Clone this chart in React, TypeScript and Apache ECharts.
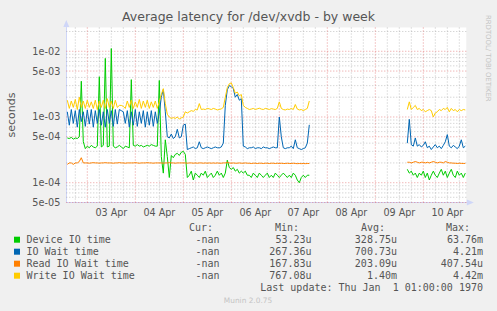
import React, { useEffect, useRef } from "react";
import * as echarts from "echarts";

// Time in hours relative to 03 Apr 00:00, one sample per hour
const seg1Start = -10;
const seg2Start = 160;

const dayLabels = ["03 Apr", "04 Apr", "05 Apr", "06 Apr", "07 Apr", "08 Apr", "09 Apr", "10 Apr"];
const dayLabelHours = [12, 36, 60, 84, 108, 132, 156, 180];

const yTickValues = [5e-5, 1e-4, 5e-4, 1e-3, 5e-3, 1e-2];
const yTickLabels = ["5e-05", "1e-04", "5e-04", "1e-03", "5e-03", "1e-02"];

const seriesNames = ["Device IO time", "IO Wait time", "Read IO Wait time", "Write IO Wait time"];
const seriesColors = ["#00CC00", "#0066B3", "#FF8000", "#FFCC00"];

// values in milliseconds
const deviceSeg1 = [
  0.48, 0.47, 0.49, 0.46, 0.48, 0.47, 0.5, 3.5, 0.42,
  0.33, 0.36, 0.34, 0.37, 0.35, 0.34, 0.36, 4.1, 0.35, 0.37, 7.8, 0.35, 0.36, 11,
  0.36, 0.34, 0.35, 0.37, 0.35, 0.33, 0.36, 0.35, 0.34, 3.7,
  0.37, 0.36, 0.38, 0.36, 0.37, 0.35, 0.36, 0.37, 0.36, 0.38, 0.37, 0.36, 0.36, 3.6,
  0.25, 0.14, 0.45, 0.25, 0.12, 0.26, 0.24, 0.27, 0.28, 0.26, 0.29, 0.3, 0.27,
  0.12, 0.13, 0.15, 0.11, 0.14, 0.13, 0.12, 0.14, 0.13, 0.15, 0.12, 0.13, 0.14, 0.12, 0.13, 0.15, 0.13, 0.14, 0.12,
  0.14, 0.22, 0.17, 0.16, 0.17, 0.15, 0.16, 0.14, 0.15, 0.14, 0.15, 0.13,
  0.13, 0.12, 0.14, 0.13, 0.12, 0.14, 0.13, 0.12, 0.13, 0.14,
  0.12, 0.13, 0.12, 0.14, 0.13, 0.12, 0.13, 0.14, 0.13, 0.12,
  0.13, 0.12, 0.14, 0.13, 0.11, 0.1, 0.12, 0.13, 0.12, 0.13, 0.13,
];
const deviceSeg2 = [
  0.16, 0.14, 0.15, 0.13, 0.14, 0.12, 0.14, 0.13, 0.15, 0.12,
  0.14, 0.11, 0.13, 0.15, 0.13, 0.12, 0.14, 0.16, 0.13, 0.15,
  0.12, 0.14, 0.16, 0.13, 0.12, 0.15, 0.13, 0.14, 0.12, 0.14,
];

const ioWaitSeg1 = [
  1.2, 0.75, 1.3, 0.8, 1.25, 0.7, 1.3, 0.85, 1.2, 0.72, 1.28, 0.78, 1.3, 0.7, 1.25, 0.8, 1.3, 0.75, 1.2, 0.7, 1.3, 0.8, 1.25, 0.72, 1.3, 0.78,
  1.3, 1.25, 1.2,
  0.8, 1.25, 0.7, 1.2, 0.75, 1.3, 0.72, 1.2, 0.8, 1.25, 0.7, 1.2, 0.75, 1.25, 0.72, 1.2, 0.8, 1.15,
  2.0, 2.6, 1.2, 0.5, 0.48, 0.55, 0.47, 0.5, 0.65, 0.48, 0.5, 0.75, 0.78, 0.32,
  0.33, 0.34, 0.35, 0.33, 0.34, 0.42, 0.34, 0.33, 0.34, 0.35, 0.34, 0.33, 0.34, 0.35, 0.34, 0.34, 0.35,
  0.4, 1.5, 2.6, 3.0, 2.9, 2.7, 2.0, 2.2, 1.8, 1.9, 0.36,
  0.35, 0.33, 0.34, 0.34, 0.35, 0.33, 0.34, 0.34, 0.33, 0.35, 0.34, 0.34, 0.33, 0.34, 0.35, 0.34,
  0.34, 1.0, 0.5, 0.34, 0.33, 0.34, 0.34, 0.36, 0.33, 0.45, 0.34, 0.33, 0.32, 0.33, 0.34, 0.4, 0.76,
];
const ioWaitSeg2 = [
  0.4, 0.92, 0.38, 0.36, 0.48, 0.36, 0.38, 0.35, 0.37, 0.42,
  0.34, 0.36, 0.32, 0.35, 0.38, 0.34, 0.36, 0.33, 0.37, 0.42,
  0.54, 0.36, 0.34, 0.37, 0.35, 0.33, 0.36, 0.45, 0.34, 0.36,
];

const readSeg1 = [
  0.19, 0.2, 0.2, 0.19, 0.2, 0.2, 0.21, 0.24, 0.2,
  0.2, 0.2, 0.198, 0.2, 0.202, 0.2, 0.2, 0.198, 0.2, 0.2, 0.202, 0.2, 0.2, 0.2,
  0.198, 0.2, 0.2, 0.202, 0.2, 0.2, 0.198, 0.2, 0.2, 0.2,
  0.2, 0.202, 0.2, 0.198, 0.2, 0.2, 0.2, 0.202, 0.2, 0.2, 0.198, 0.2, 0.2, 0.2,
  0.2, 0.198, 0.2, 0.2, 0.202, 0.2, 0.2, 0.198, 0.2, 0.2, 0.2, 0.2, 0.2,
  0.198, 0.2, 0.2, 0.198, 0.2, 0.198, 0.2, 0.2, 0.198, 0.2, 0.198, 0.2, 0.198, 0.2, 0.198, 0.2, 0.198, 0.198, 0.2,
  0.2, 0.204, 0.2, 0.198, 0.2, 0.198, 0.198, 0.2, 0.198, 0.198, 0.2, 0.198,
  0.198, 0.196, 0.198, 0.198, 0.196, 0.198, 0.198, 0.196, 0.198, 0.198,
  0.196, 0.198, 0.198, 0.196, 0.198, 0.196, 0.198, 0.196, 0.196, 0.198,
  0.196, 0.196, 0.198, 0.196, 0.195, 0.196, 0.195, 0.196, 0.195, 0.196, 0.196,
];
const readSeg2 = [
  0.205, 0.205, 0.2, 0.205, 0.21, 0.205, 0.2, 0.205, 0.205, 0.2,
  0.205, 0.2, 0.205, 0.21, 0.205, 0.2, 0.205, 0.205, 0.2, 0.21,
  0.205, 0.2, 0.2, 0.198, 0.198, 0.196, 0.198, 0.197, 0.196, 0.197,
];

const writeSeg1 = [
  1.8, 1.35, 1.75, 1.4, 1.85, 1.3, 2.0, 1.4, 1.75, 1.35, 1.8, 1.4, 1.7, 1.35, 1.8, 1.3, 1.75, 1.4, 1.8, 1.35, 1.9, 1.4, 1.75, 1.35, 1.8, 1.4,
  1.5, 1.5, 1.45,
  1.35, 1.75, 1.4, 1.8, 1.35, 1.7, 1.4, 1.85, 1.35, 1.75, 1.4, 1.8, 1.35, 1.7, 1.4, 1.75, 1.35, 1.7,
  2.2, 2.7, 1.6, 1.1, 1.0, 0.95, 0.98, 0.95, 1.0, 0.93, 0.97, 1.0, 1.2, 1.15,
  1.2, 1.25, 1.22, 1.3, 1.28, 1.6, 1.3, 1.32, 1.3, 1.35, 1.33, 1.3, 1.35, 1.32, 1.28, 1.3, 1.33,
  1.4, 2.0, 2.8, 3.2, 3.3, 2.8, 2.3, 2.4, 2.1, 2.2, 1.5,
  1.4, 1.35, 1.3, 1.32, 1.35, 1.3, 1.33, 1.36, 1.32, 1.3, 1.35, 1.33, 1.3, 1.34, 1.32, 1.3,
  1.35, 1.7, 1.35, 1.3, 1.28, 1.32, 1.3, 1.35, 1.3, 1.55, 1.32, 1.28, 1.3, 1.25, 1.3, 1.35, 1.75,
];
const writeSeg2 = [
  1.3, 1.7, 1.3, 1.4, 1.5, 1.3, 1.35, 1.25, 1.3, 1.2,
  1.25, 1.3, 1.25, 1.0, 1.15, 1.2, 1.3, 1.25, 1.35, 1.3,
  1.4, 1.2, 1.35, 1.25, 1.3, 1.2, 1.3, 1.25, 1.3, 1.28,
];

const curValues = ["-nan", "-nan", "-nan", "-nan"];
const minValues = ["53.23u", "267.36u", "167.83u", "767.08u"];
const avgValues = ["328.75u", "700.73u", "203.09u", "1.40m"];
const maxValues = ["63.76m", "4.21m", "407.54u", "4.42m"];

const W = 497;
const H = 311;
const gridLeft = 66.3;
const gridTop = 27.5;
const gridW = 400;
const gridH = 175;
const xMin = -10.5;
const xMax = 189.5;
const yMin = 5e-5;
const yMax = 2.3e-2;

const MGRID = "rgba(225,110,110,0.7)";
const GRID = "rgba(160,160,160,0.6)";
const AXIS = "#CFD6F8";
const FONT = "#555555";

function build(seg1: number[], seg2: number[]) {
  const d: (number | null)[][] = [];
  seg1.forEach((v, i) => d.push([seg1Start + i, v / 1000]));
  d.push([(seg1Start + seg1.length + seg2Start) / 2, null]);
  seg2.forEach((v, i) => d.push([seg2Start + i, v / 1000]));
  return d;
}

export default function App() {
  const ref = useRef<HTMLDivElement>(null);
  useEffect(() => {
    if (!ref.current) return;
    const chart = echarts.init(ref.current, undefined, { renderer: "svg" });

    // grid line series (segments separated by null points)
    const vMajor: (number | null)[][] = [];
    const vMinor: (number | null)[][] = [];
    for (let h = -6; h <= 186; h += 6) {
      const target = h % 24 === 0 ? vMajor : vMinor;
      target.push([h, yMin], [h, yMax], [h, null]);
    }
    const hMajor: (number | null)[][] = [];
    const hMinor: (number | null)[][] = [];
    for (let e = -5; e <= -2; e++) {
      for (let m = 1; m <= 9; m++) {
        const v = m * Math.pow(10, e);
        if (v < yMin * 0.999 || v > yMax) continue;
        const target = m === 1 || m === 5 ? hMajor : hMinor;
        target.push([xMin, v], [xMax, v], [xMax, null]);
      }
    }
    const gridSeries = (data: any[], color: string, z: number) => ({
      type: "line",
      data,
      z,
      silent: true,
      showSymbol: false,
      symbol: "none",
      connectNulls: false,
      lineStyle: { color, width: 1, type: [1, 2] },
      tooltip: { show: false },
    });

    const allSeg = [
      [deviceSeg1, deviceSeg2],
      [ioWaitSeg1, ioWaitSeg2],
      [readSeg1, readSeg2],
      [writeSeg1, writeSeg2],
    ];

    const series: any[] = [
      gridSeries(hMinor, GRID, 0),
      gridSeries(vMinor, GRID, 0),
      gridSeries(hMajor, MGRID, 1),
      gridSeries(vMajor, MGRID, 1),
    ];
    allSeg.forEach((segs, k) => {
      series.push({
        type: "line",
        name: seriesNames[k],
        data: build(segs[0], segs[1]),
        showSymbol: false,
        symbol: "none",
        connectNulls: false,
        z: 2 + k,
        lineStyle: { color: seriesColors[k], width: 1 },
        itemStyle: { color: seriesColors[k] },
      });
    });

    const mono = "10px 'DejaVu Sans Mono'";
    const txt = (text: string, x: number, y: number, align: string, font: string, fill: string, extra: any = {}) => ({
      type: "text",
      x,
      y,
      ...extra,
      style: { text, fill, font, align, verticalAlign: "middle", textAlign: align, textVerticalAlign: "middle" },
    });
    const graphics: any[] = [];
    const rowY = [239.7, 251.7, 263.7, 275.7];
    const headerY = 227.5;
    const headers: [string, number][] = [
      ["Cur:", 213],
      ["Min:", 299],
      ["Avg:", 385],
      ["Max:", 470],
    ];
    headers.forEach(([t, x]) => graphics.push(txt(t, x, headerY, "right", mono, FONT)));
    seriesNames.forEach((name, k) => {
      graphics.push({
        type: "rect",
        shape: { x: 14, y: rowY[k] - 3, width: 6, height: 6 },
        style: { fill: seriesColors[k] },
      });
      graphics.push(txt(name, 26.5, rowY[k], "left", mono, FONT));
      const cols: [string, number][] = [
        [curValues[k], 219.5],
        [minValues[k], 311.5],
        [avgValues[k], 397],
        [maxValues[k], 483],
      ];
      cols.forEach(([t, x]) => graphics.push(txt(t, x, rowY[k], "right", mono, FONT)));
    });
    graphics.push(txt("Last update: Thu Jan  1 01:00:00 1970", 483, 287.7, "right", mono, FONT));
    graphics.push(txt("Munin 2.0.75", 248, 300, "center", "7.4px 'DejaVu Sans'", "#c4c4c4"));
    graphics.push(txt("RRDTOOL/ TOBI OETIKER", 488, 58.3, "center", "6.9px 'DejaVu Sans'", "#c4c4c4", { rotation: -Math.PI / 2 }));
    graphics.push(txt("seconds", 11.5, 115, "center", "11px 'DejaVu Sans'", FONT, { rotation: Math.PI / 2 }));

    chart.setOption({
      animation: false,
      backgroundColor: "#F0F0F0",
      title: {
        text: "Average latency for /dev/xvdb - by week",
        left: "center",
        top: 10,
        padding: 0,
        textStyle: { fontFamily: "DejaVu Sans", fontSize: 12.5, fontWeight: "normal", color: FONT },
      },
      grid: {
        left: gridLeft,
        top: gridTop,
        width: gridW,
        height: gridH,
        show: true,
        backgroundColor: "#FFFFFF",
        borderWidth: 0,
        containLabel: false,
        outerBoundsMode: "none",
      },
      xAxis: {
        type: "value",
        min: xMin,
        max: xMax,
        splitLine: { show: false },
        axisTick: { show: false },
        axisLine: {
          show: true,
          onZero: false,
          lineStyle: { color: AXIS, width: 1 },
          symbol: ["none", "triangle"],
          symbolSize: [6, 7],
          symbolOffset: [0, 4],
        },
        axisLabel: {
          customValues: dayLabelHours,
          formatter: (v: number) => {
            const i = dayLabelHours.findIndex((h) => Math.abs(h - v) < 0.5);
            return i >= 0 ? dayLabels[i] : "";
          },
          color: FONT,
          fontFamily: "DejaVu Sans",
          fontSize: 9.6,
          margin: 5,
        },
      },
      yAxis: {
        type: "log",
        logBase: 10,
        min: yMin,
        max: yMax,
        splitLine: { show: false },
        minorSplitLine: { show: false },
        axisTick: { show: false },
        axisLine: {
          show: true,
          onZero: false,
          lineStyle: { color: AXIS, width: 1 },
          symbol: ["none", "triangle"],
          symbolSize: [6, 7],
          symbolOffset: [0, 4],
        },
        axisLabel: {
          customValues: yTickValues,
          formatter: (v: number) => {
            const i = yTickValues.findIndex((t) => Math.abs(Math.log10(t) - Math.log10(v)) < 0.01);
            return i >= 0 ? yTickLabels[i] : "";
          },
          color: FONT,
          fontFamily: "DejaVu Sans",
          fontSize: 9.7,
          margin: 6,
        },
      },
      series,
      graphic: graphics,
    });
    return () => chart.dispose();
  }, []);
  return <div ref={ref} style={{ position: "absolute", left: 0, top: 0, width: W, height: H }} />;
}
